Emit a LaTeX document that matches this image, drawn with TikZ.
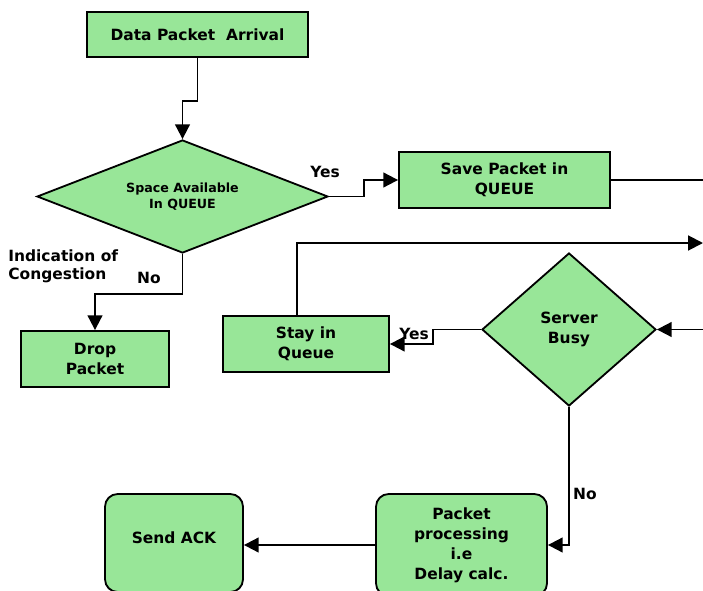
\documentclass[tikz,border=0pt]{standalone}
\usepackage{fontspec}
\setmainfont{DejaVu Sans}
\usetikzlibrary{shapes.geometric,arrows.meta}
\definecolor{boxgreen}{RGB}{152,230,152}
\tikzset{
  box/.style={draw, line width=1.3pt, fill=boxgreen, align=center, inner sep=0pt,
    font=\fontsize{11}{14.2}\selectfont\bfseries},
  rbox/.style={box, rounded corners=9pt},
  decision/.style={box, diamond, inner sep=0pt},
  arr/.style={line width=1.4pt, -{Triangle[length=10.5pt,width=10.5pt]}},
  plain/.style={line width=1.4pt},
  lbl/.style={font=\fontsize{11}{12.8}\selectfont\bfseries, inner sep=0pt}
}
\begin{document}
\begin{tikzpicture}[x=0.025cm, y=-0.025cm, line join=miter]
  \useasboundingbox (0,0) rectangle (703,591);
  \clip (0,0) rectangle (703,591);
  \node[box, minimum width=221*0.025cm, minimum height=45*0.025cm] (arrival) at (197.5,34.5) {Data Packet\ \ Arrival};
  \node[decision, shape aspect=2.575, minimum width=291*0.025cm, minimum height=113*0.025cm,
    font=\fontsize{9}{11.5}\selectfont\bfseries] (space) at (182.5,196.5) {Space Available\\In QUEUE};
  \node[box, minimum width=211*0.025cm, minimum height=56*0.025cm] (save) at (504.5,180) {Save Packet in\\QUEUE};
  \node[box, minimum width=148*0.025cm, minimum height=56*0.025cm] (drop) at (95,359) {Drop\\Packet};
  \node[box, minimum width=166*0.025cm, minimum height=56*0.025cm] (stay) at (306,344) {Stay in\\Queue};
  \node[decision, shape aspect=1.137, minimum width=174*0.025cm, minimum height=153*0.025cm] (busy) at (569,329.5) {Server\\Busy};
  \node[rbox, minimum width=171*0.025cm, minimum height=102*0.025cm] (proc) at (461.5,545) {Packet\\processing\\i.e\\Delay calc.};
  \node[rbox, minimum width=138*0.025cm, minimum height=98*0.025cm] (ack) at (174,543) {\raisebox{7pt}{Send ACK}};
  \coordinate (saveout) at (703,180);
  \coordinate (loopout) at (703,243);
  \coordinate (busyin) at (703,329.5);
  \draw[arr] (arrival.south) -- ++(0,43) -| (space.north);
  \draw[arr] (space.east) -- ++(35,0) |- (save.west);
  \draw[plain] (save.east) -- (saveout);
  \draw[arr] (space.south) -- ++(0,40) -| (drop.north);
  \draw[arr] (stay.north) ++(-9,0) |- (loopout);
  \draw[arr] (busyin) -- (busy.east);
  \draw[arr] (busy.west) -- ++(-48,0) |- (stay.east);
  \draw[arr] (busy.south) |- (proc.east);
  \draw[arr] (proc.west) -- (proc.west -| ack.east);
  \node[lbl] (yes1) at (325,172) {Yes};
  \node[lbl] (yes2) at (414,334) {Yes};
  \node[lbl] (no1) at (149,278) {No};
  \node[lbl] (no2) at (585,494) {No};
  \node[lbl, anchor=north west, align=left] (cong) at (8,249) {Indication of\\Congestion};
\end{tikzpicture}
\end{document}
